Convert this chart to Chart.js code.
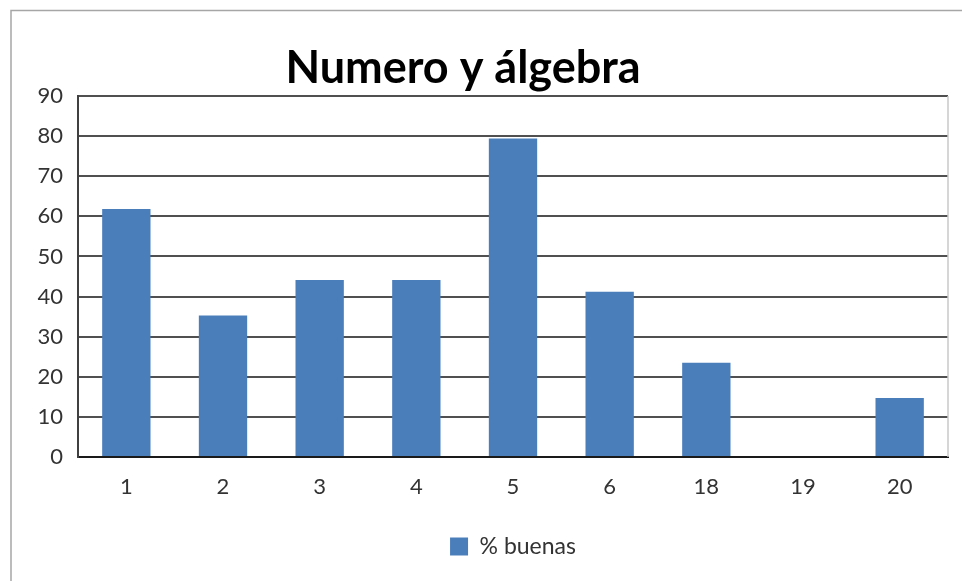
<!DOCTYPE html>
<html>
<head>
<meta charset="utf-8">
<script src="https://cdn.jsdelivr.net/npm/chart.js@4/dist/chart.umd.min.js"></script>
<style>
  html, body { margin: 0; padding: 0; background: #fff; }
  #wrap { width: 962px; height: 581px; position: relative; }
</style>
</head>
<body>
<div id="wrap"><canvas id="c"></canvas></div>
<script>
const categories = ['1', '2', '3', '4', '5', '6', '18', '19', '20'];
const seriesName = '% buenas';
const buenas = [61.8, 35.3, 44.1, 44.1, 79.4, 41.2, 23.5, 0, 14.7];
const yTicks = [0, 10, 20, 30, 40, 50, 60, 70, 80, 90];
const chartTitle = 'Numero y álgebra';

const framePlugin = {
  id: 'frame',
  beforeDraw(chart) {
    const ctx = chart.ctx;
    ctx.save();
    ctx.fillStyle = '#fff';
    ctx.fillRect(0, 0, chart.width, chart.height);
    ctx.strokeStyle = '#a6a6a6';
    ctx.lineWidth = 1.5;
    ctx.beginPath();
    ctx.moveTo(11, chart.height);
    ctx.lineTo(11, 10.5);
    ctx.lineTo(chart.width, 10.5);
    ctx.stroke();
    ctx.restore();
  },
  afterDatasetsDraw(chart) {
    const ctx = chart.ctx;
    const a = chart.chartArea;
    ctx.save();
    ctx.strokeStyle = '#c8c8c8';
    ctx.lineWidth = 1.5;
    ctx.beginPath();
    ctx.moveTo(a.right, a.top);
    ctx.lineTo(a.right, a.bottom);
    ctx.stroke();
    ctx.restore();
  }
};

new Chart(document.getElementById('c'), {
  type: 'bar',
  data: {
    labels: categories,
    datasets: [{
      label: seriesName,
      data: buenas,
      backgroundColor: '#4a7ebb',
      borderWidth: 0,
      barPercentage: 0.5,
      categoryPercentage: 1.0
    }]
  },
  options: {
    responsive: true,
    maintainAspectRatio: false,
    animation: false,
    devicePixelRatio: 1,
    layout: { padding: { top: 0, left: -22, right: 14, bottom: 13 } },
    plugins: {
      title: {
        display: true,
        text: chartTitle,
        color: '#000',
        font: { family: 'Lato', size: 45, weight: 'bold', lineHeight: 1.1 },
        padding: { top: 44, bottom: 2.5 }
      },
      legend: {
        display: true,
        position: 'bottom',
        fullSize: false,
        labels: {
          color: '#333',
          font: { family: 'Lato', size: 23 },
          boxWidth: 18,
          boxHeight: 18,
          padding: 10
        }
      },
      tooltip: { enabled: false }
    },
    scales: {
      x: {
        grid: { display: true, drawOnChartArea: false, drawTicks: false },
        border: { display: true, color: '#1a1a1a', width: 2 },
        ticks: {
          color: '#333',
          font: { family: 'Lato', size: 22 },
          padding: 17,
          maxRotation: 0
        },
        afterFit(scale) { scale.height = 68; }
      },
      y: {
        min: 0,
        max: 90,
        afterBuildTicks(scale) { scale.ticks = yTicks.map(v => ({ value: v })); },
        grid: { color: '#505050', lineWidth: 2, drawTicks: false },
        border: { display: true, color: '#404040', width: 2 },
        ticks: {
          color: '#333',
          font: { family: 'Lato', size: 22 },
          padding: 15
        },
        afterFit(scale) { scale.width = 100; }
      }
    }
  },
  plugins: [framePlugin]
});
</script>
</body>
</html>
